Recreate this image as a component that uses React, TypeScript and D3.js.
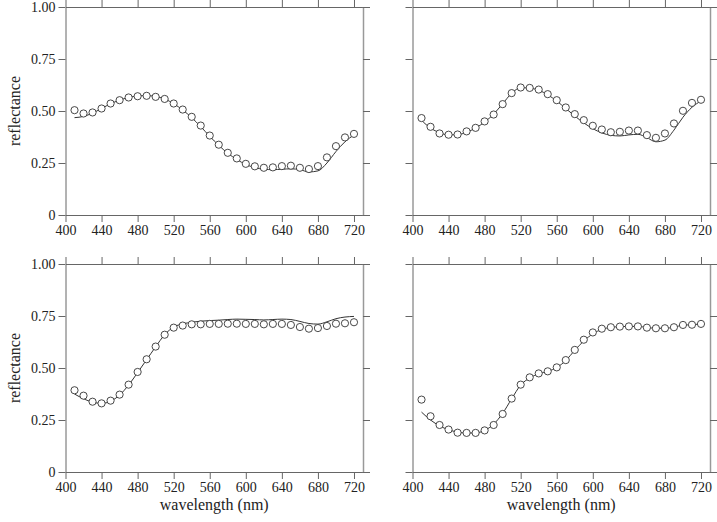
import React, { useEffect, useRef } from 'react'
import * as d3 from 'd3'

const wavelengths = d3.range(410, 730, 10)
const xTicks = [400, 440, 480, 520, 560, 600, 640, 680, 720]
const yTicks = [0, 0.25, 0.5, 0.75, 1]

// measured reflectance (circles) and fitted curve (line), one pair per panel
const measuredA = [0.504, 0.488, 0.493, 0.512, 0.536, 0.552, 0.565, 0.571, 0.573, 0.568, 0.558, 0.536, 0.507, 0.472, 0.43, 0.382, 0.338, 0.299, 0.272, 0.246, 0.234, 0.227, 0.229, 0.235, 0.237, 0.227, 0.221, 0.235, 0.277, 0.331, 0.373, 0.39]
const fittedA = [0.468, 0.474, 0.49, 0.512, 0.535, 0.552, 0.565, 0.572, 0.574, 0.57, 0.558, 0.535, 0.505, 0.468, 0.425, 0.378, 0.335, 0.297, 0.267, 0.243, 0.228, 0.22, 0.218, 0.22, 0.222, 0.218, 0.207, 0.212, 0.25, 0.305, 0.352, 0.385]

const measuredB = [0.466, 0.424, 0.392, 0.386, 0.387, 0.402, 0.419, 0.45, 0.483, 0.533, 0.586, 0.613, 0.611, 0.603, 0.581, 0.552, 0.517, 0.485, 0.456, 0.429, 0.411, 0.398, 0.4, 0.406, 0.406, 0.384, 0.371, 0.392, 0.44, 0.501, 0.539, 0.554]
const fittedB = [0.455, 0.418, 0.396, 0.385, 0.386, 0.398, 0.418, 0.447, 0.485, 0.535, 0.585, 0.612, 0.61, 0.6, 0.578, 0.548, 0.512, 0.476, 0.443, 0.415, 0.395, 0.383, 0.38, 0.385, 0.388, 0.372, 0.352, 0.36, 0.408, 0.47, 0.518, 0.548]

const measuredC = [0.393, 0.367, 0.338, 0.33, 0.343, 0.372, 0.42, 0.481, 0.542, 0.603, 0.66, 0.694, 0.704, 0.71, 0.71, 0.712, 0.712, 0.713, 0.713, 0.712, 0.712, 0.71, 0.712, 0.712, 0.707, 0.697, 0.689, 0.692, 0.702, 0.713, 0.715, 0.72]
const fittedC = [0.375, 0.352, 0.336, 0.33, 0.34, 0.37, 0.418, 0.478, 0.54, 0.602, 0.66, 0.697, 0.712, 0.72, 0.725, 0.728, 0.73, 0.733, 0.735, 0.734, 0.733, 0.731, 0.733, 0.735, 0.733, 0.724, 0.714, 0.711, 0.722, 0.737, 0.745, 0.748]

const measuredD = [0.348, 0.268, 0.226, 0.204, 0.189, 0.188, 0.188, 0.2, 0.226, 0.279, 0.353, 0.42, 0.455, 0.474, 0.484, 0.503, 0.538, 0.587, 0.636, 0.671, 0.689, 0.696, 0.699, 0.7, 0.7, 0.694, 0.691, 0.691, 0.696, 0.707, 0.708, 0.712]
const fittedD = [0.288, 0.25, 0.222, 0.203, 0.192, 0.187, 0.188, 0.2, 0.23, 0.282, 0.352, 0.418, 0.452, 0.472, 0.484, 0.502, 0.536, 0.585, 0.63, 0.664, 0.686, 0.695, 0.699, 0.7, 0.7, 0.695, 0.691, 0.691, 0.696, 0.706, 0.708, 0.712]

const panels = [
  { measured: measuredA, fitted: fittedA, left: 65.5, top: 7, yLabels: true },
  { measured: measuredB, fitted: fittedB, left: 412.5, top: 7, yLabels: false },
  { measured: measuredC, fitted: fittedC, left: 65.5, top: 264, yLabels: true },
  { measured: measuredD, fitted: fittedD, left: 412.5, top: 264, yLabels: false },
]

const W = 717
const H = 522
const panelW = 297.5
const panelH = 208
const font = '"Liberation Serif", "Times New Roman", serif'

const App = () => {
  const ref = useRef<SVGSVGElement>(null)

  useEffect(() => {
    const svg = d3.select(ref.current)
    svg.selectAll('*').remove()

    panels.forEach(p => {
      const x = d3.scaleLinear().domain([400, 730]).range([p.left, p.left + panelW])
      const y = d3.scaleLinear().domain([0, 1]).range([p.top + panelH, p.top])
      const g = svg.append('g')

      const styleAxis = (sel, showLabels) => {
        sel.selectAll('.domain').attr('stroke', '#666')
        sel.selectAll('.tick line').attr('stroke', '#666')
        sel
          .selectAll('.tick text')
          .attr('fill', '#222')
          .attr('font-family', font)
          .attr('font-size', 14)
          .style('display', showLabels ? null : 'none')
      }

      g.append('g')
        .attr('transform', `translate(0,${p.top + panelH})`)
        .call(d3.axisBottom(x).tickValues(xTicks).tickSize(7).tickSizeOuter(0).tickPadding(3))
        .call(s => styleAxis(s, true))

      g.append('g')
        .attr('transform', `translate(0,${p.top})`)
        .call(d3.axisTop(x).tickValues(xTicks).tickSize(7).tickSizeOuter(0))
        .call(s => styleAxis(s, false))

      g.append('g')
        .attr('transform', `translate(${p.left},0)`)
        .call(
          d3
            .axisLeft(y)
            .tickValues(yTicks)
            .tickSize(7)
            .tickSizeOuter(0)
            .tickPadding(3)
            .tickFormat(d => (d === 0 ? '0' : d3.format('.2f')(d))),
        )
        .call(s => styleAxis(s, p.yLabels))

      g.append('g')
        .attr('transform', `translate(${p.left + panelW},0)`)
        .call(d3.axisRight(y).tickValues(yTicks).tickSize(7).tickSizeOuter(0))
        .call(s => styleAxis(s, false))
        .call(s => s.select('.domain').attr('stroke', '#999').attr('stroke-width', 1.5))

      const line = d3
        .line<number>()
        .x((d, i) => x(wavelengths[i]))
        .y(d => y(d))
        .curve(d3.curveMonotoneX)

      g.append('path')
        .attr('d', line(p.fitted))
        .attr('fill', 'none')
        .attr('stroke', '#333')
        .attr('stroke-width', 1)

      g.append('g')
        .selectAll('circle')
        .data(p.measured)
        .join('circle')
        .attr('cx', (d, i) => x(wavelengths[i]))
        .attr('cy', d => y(d))
        .attr('r', 3.6)
        .attr('fill', 'white')
        .attr('stroke', '#333')
        .attr('stroke-width', 0.9)
    })

    // axis titles
    ;[111, 368].forEach(cy => {
      svg
        .append('text')
        .attr('transform', `translate(14,${cy}) rotate(-90)`)
        .attr('text-anchor', 'middle')
        .attr('dominant-baseline', 'central')
        .attr('font-family', font)
        .attr('font-size', 16)
        .attr('fill', '#222')
        .text('reflectance')
    })
    ;[65.5 + panelW / 2, 412.5 + panelW / 2].forEach(cx => {
      svg
        .append('text')
        .attr('x', cx)
        .attr('y', 510)
        .attr('text-anchor', 'middle')
        .attr('font-family', font)
        .attr('font-size', 16)
        .attr('fill', '#222')
        .text('wavelength (nm)')
    })
  }, [])

  return <svg ref={ref} width={W} height={H} style={{ position: 'absolute', left: 0, top: 0 }} />
}

export default App
